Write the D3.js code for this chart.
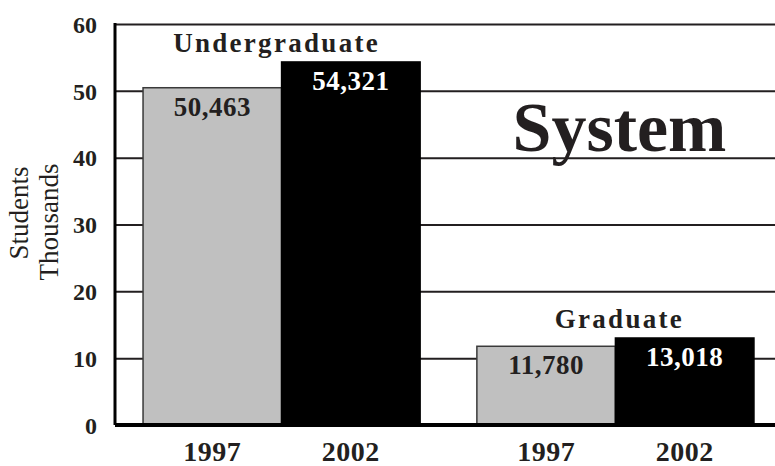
<!DOCTYPE html>
<html>
<head>
<meta charset="utf-8">
<script src="https://cdn.jsdelivr.net/npm/d3@7"></script>
<style>
  body { margin: 0; background: #fff; }
  svg { display: block; }
  text { font-family: "Liberation Serif", "Times New Roman", serif; fill: #231f20; }
</style>
</head>
<body>
<div id="chart"></div>
<script>
// chart values
const groups = ['Undergraduate', 'Graduate'];
const years = ['1997', '2002'];
const undergrad = [50463, 54321];
const graduate = [11780, 13018];
const yTicks = [0, 10, 20, 30, 40, 50, 60];
const yTitle = ['Students', 'Thousands'];
const title = 'System';

const width = 775;
const height = 466;
const margin = { top: 24, right: -6, bottom: 41, left: 115 };

const rows = [];
groups.forEach((g, i) => {
    const vals = i === 0 ? undergrad : graduate;
    years.forEach((yr, j) => rows.push({ group: g, year: yr, value: vals[j] }));
});

const svg = d3.select('#chart')
    .append('svg')
    .attr('width', width)
    .attr('height', height);

const x0 = d3.scaleBand()
    .domain(groups)
    .range([margin.left, 782])
    .paddingInner(0.17)
    .paddingOuter(0.084);

const x1 = d3.scaleBand()
    .domain(years)
    .range([0, x0.bandwidth()]);

const y = d3.scaleLinear()
    .domain([0, 60])
    .range([height - margin.bottom, margin.top]);

// gridlines + tick labels
const yAxis = svg.append('g')
    .attr('transform', `translate(${margin.left},0)`)
    .call(d3.axisLeft(y).tickValues(yTicks).tickSize(-(width - margin.left - margin.right)).tickPadding(18));
yAxis.select('.domain').remove();
yAxis.selectAll('.tick line')
    .attr('stroke', '#231f20')
    .attr('stroke-width', 2);
yAxis.selectAll('.tick text')
    .attr('fill', '#231f20')
    .style('font-family', '"Liberation Serif", serif')
    .style('font-size', '24px')
    .style('font-weight', 'bold')
    .attr('dy', '0.34em');

// left axis line
svg.append('line')
    .attr('x1', margin.left).attr('x2', margin.left)
    .attr('y1', y(60) - 1).attr('y2', y(0))
    .attr('stroke', '#000')
    .attr('stroke-width', 3);

// bars
const bars = svg.append('g').attr('class', 'bars');
bars.selectAll('rect')
    .data(rows)
    .join('rect')
    .attr('x', (d) => x0(d.group) + x1(d.year))
    .attr('y', (d) => y(d.value / 1000))
    .attr('width', x1.bandwidth())
    .attr('height', (d) => y(0) - y(d.value / 1000))
    .attr('fill', (d) => d.year === '1997' ? '#c0c0c0' : '#000')
    .attr('stroke', (d) => d.year === '1997' ? '#3a3a3a' : '#000')
    .attr('stroke-width', 1.5);

// baseline
svg.append('line')
    .attr('x1', margin.left).attr('x2', width)
    .attr('y1', y(0)).attr('y2', y(0))
    .attr('stroke', '#000')
    .attr('stroke-width', 4);

// value labels inside bars
bars.selectAll('text.value')
    .data(rows)
    .join('text')
    .attr('class', 'value')
    .attr('x', (d) => x0(d.group) + x1(d.year) + x1.bandwidth() / 2)
    .attr('y', (d) => y(d.value / 1000) + 28)
    .attr('text-anchor', 'middle')
    .style('font-size', '27px')
    .style('font-weight', 'bold')
    .style('letter-spacing', '0.5px')
    .style('fill', (d) => d.year === '1997' ? '#231f20' : '#fff')
    .text((d) => d3.format(',')(d.value));

// group labels above bars
svg.selectAll('text.group')
    .data(groups)
    .join('text')
    .attr('class', 'group')
    .attr('x', (g, i) => x0(g) + x0.bandwidth() / 2 + (i === 0 ? -5 : 4))
    .attr('y', (g) => y(d3.max(rows.filter((r) => r.group === g), (r) => r.value) / 1000) - 10)
    .attr('text-anchor', 'middle')
    .style('font-size', '27px')
    .style('font-weight', 'bold')
    .style('letter-spacing', '2.3px')
    .text((g) => g);

// year labels
svg.selectAll('text.year')
    .data(rows)
    .join('text')
    .attr('class', 'year')
    .attr('x', (d) => x0(d.group) + x1(d.year) + x1.bandwidth() / 2)
    .attr('y', 461)
    .attr('text-anchor', 'middle')
    .style('font-size', '28px')
    .style('font-weight', 'bold')
    .style('letter-spacing', '0.5px')
    .text((d) => d.year);

// big title
svg.append('text')
    .attr('x', x0('Graduate') + x0.bandwidth() / 2 + 4)
    .attr('y', y(41))
    .attr('text-anchor', 'middle')
    .style('font-size', '70px')
    .style('font-weight', 'bold')
    .text(title);

// y axis title
svg.selectAll('text.ytitle')
    .data(yTitle)
    .join('text')
    .attr('class', 'ytitle')
    .attr('transform', (d, i) => `translate(${i === 0 ? 28 : 58},${i === 0 ? 213 : 222}) rotate(-90)`)
    .attr('text-anchor', 'middle')
    .style('font-size', '27px')
    .text((d) => d);
</script>
</body>
</html>
